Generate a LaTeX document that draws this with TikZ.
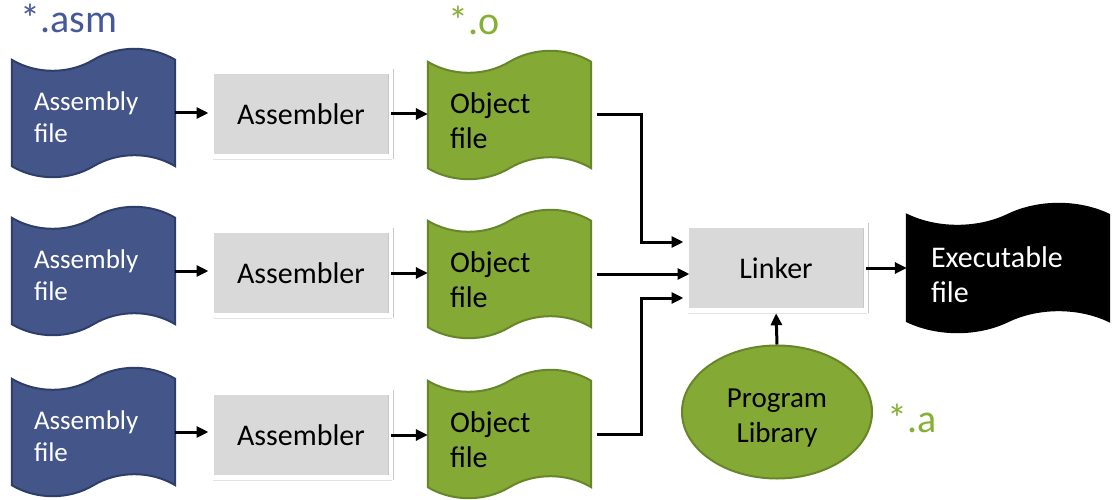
\documentclass[tikz,border=0pt]{standalone}
\usepackage{fontspec}
\setmainfont{Carlito}
\usetikzlibrary{shapes.geometric,arrows.meta,calc,backgrounds,shadows}
\definecolor{bluefill}{HTML}{44558A}
\definecolor{blueedge}{HTML}{2F3E68}
\definecolor{greenfill}{HTML}{84A934}
\definecolor{greenedge}{HTML}{67862A}
\definecolor{boxgrey}{HTML}{D9D9D9}
\definecolor{boxedge}{HTML}{C8C8C8}
\definecolor{asmcol}{HTML}{45599A}
\definecolor{extcol}{HTML}{86AF35}
% draws a punched-tape outline around node #1, style #2, wave amplitude #3
\newcommand\tapedraw[3]{%
  \path[#2] let \p1=(#1.north west), \p2=(#1.south east), \n1={\x2-\x1}, \n2={1.333*#3} in
    (\x1,\y1) .. controls ({\x1+0.15*\n1},{\y1-\n2}) and ({\x1+0.35*\n1},{\y1-\n2}) .. ({\x1+0.5*\n1},\y1)
    .. controls ({\x1+0.65*\n1},{\y1+\n2}) and ({\x1+0.85*\n1},{\y1+\n2}) .. (\x2,\y1)
    -- (\x2,\y2)
    .. controls ({\x1+0.85*\n1},{\y2+\n2}) and ({\x1+0.65*\n1},{\y2+\n2}) .. ({\x1+0.5*\n1},\y2)
    .. controls ({\x1+0.35*\n1},{\y2-\n2}) and ({\x1+0.15*\n1},{\y2-\n2}) .. (\x1,\y2) -- cycle;}
\begin{document}
\begin{tikzpicture}[x=1pt,y=-1pt,
  tapesmall/.style={minimum width=163pt, minimum height=106pt, text width=119pt,
    inner xsep=22pt, inner ysep=0pt, align=left},
  tapebig/.style={minimum width=202pt, minimum height=106pt, text width=154pt,
    inner xsep=24pt, inner ysep=0pt, align=left},
  asmfile/.style={tapesmall, text=white, font=\fontsize{27}{32}\selectfont,
    execute at begin node={\rule{0pt}{27pt}}},
  objfile/.style={tapesmall, text=black, font=\fontsize{30}{35}\selectfont,
    execute at begin node={\rule{0pt}{32pt}}},
  exefile/.style={tapebig, text=white, font=\fontsize{30}{35}\selectfont,
    execute at begin node={\rule{0pt}{34pt}}},
  bluetape/.style={fill=bluefill, draw=blueedge, line width=2pt},
  greentape/.style={fill=greenfill, draw=greenedge, line width=2pt},
  blacktape/.style={fill=black, draw=black, line width=2pt},
  procbox/.style={rectangle, fill=boxgrey, draw=boxedge, line width=0.5pt,
    double=white, double distance=4.5pt, minimum width=179.5pt, minimum height=85pt,
    font=\fontsize{30}{35}\selectfont,
    drop shadow={shadow xshift=1.5pt, shadow yshift=-3.5pt, opacity=0.22}},
  libnode/.style={ellipse, fill=greenfill, draw=greenedge, line width=2pt,
    minimum width=190pt, minimum height=133pt, inner sep=0pt, text width=130pt,
    align=center, font=\fontsize{29}{35}\selectfont,
    execute at begin node={\rule{0pt}{31pt}}},
  ext/.style={inner sep=0pt, font=\fontsize{40}{46}\selectfont},
  arr/.style={line width=3pt, -{Triangle[length=12pt,width=11pt]}, shorten >=2.5pt},
  arrt/.style={line width=3pt, -{Triangle[length=12pt,width=11pt]}}
]
\useasboundingbox (0,0) rectangle (1113,500);

% file shapes (text nodes)
\node[asmfile] (af1) at (93.5,113) {Assembly\\file};
\node[asmfile] (af2) at (93.5,271) {Assembly\\file};
\node[asmfile] (af3) at (93.5,432) {Assembly\\file};
\node[objfile] (of1) at (509.5,115) {Object\\file};
\node[objfile] (of2) at (509.5,274) {Object\\file};
\node[objfile] (of3) at (509.5,434) {Object\\file};
\node[exefile] (ex) at (1008,268) {Executable\\file};

\begin{scope}[on background layer]
  \tapedraw{af1}{bluetape}{11pt}
  \tapedraw{af2}{bluetape}{11pt}
  \tapedraw{af3}{bluetape}{11pt}
  \tapedraw{of1}{greentape}{11pt}
  \tapedraw{of2}{greentape}{11pt}
  \tapedraw{of3}{greentape}{11pt}
  \tapedraw{ex}{blacktape}{11pt}
\end{scope}

% process boxes
\node[procbox] (as1) at (301,114) {Assembler};
\node[procbox] (as2) at (301,273) {Assembler};
\node[procbox] (as3) at (301,435) {Assembler};
\node[procbox] (lk) at (776,268) {Linker};

% library
\node[libnode] (lib) at (777,412) {Program\\Library};

% extension labels
\node[ext, text=asmcol, anchor=base west] (lasm) at (20,33) {*.asm};
\node[ext, text=extcol, anchor=base west] (lo) at (448,35) {*.o};
\node[ext, text=extcol, anchor=base west] (la) at (887,432) {*.a};

% connectors
\coordinate (j) at (635,0);
\foreach \i in {1,2,3}{
  \draw[arr] (af\i.east) -- (af\i.east -| as\i.west);
  \draw[arrt] (as\i.east) -- (as\i.east -| of\i.west);
}
\draw[arr] ([xshift=6pt]of1.east) -- ([xshift=6pt]of1.east -| j) |- ([yshift=26pt]lk.west);
\draw[arr] ([xshift=6pt]of2.east) -- ([xshift=6pt]of2.east -| lk.west);
\draw[arr] ([xshift=6pt]of3.east) -- ([xshift=6pt]of3.east -| j) |- ([yshift=-30pt]lk.west);
\draw[arrt] (lk.east) -- (lk.east -| ex.west);
\draw[arr] (lib.north) -- (lk.south);
\end{tikzpicture}
\end{document}
